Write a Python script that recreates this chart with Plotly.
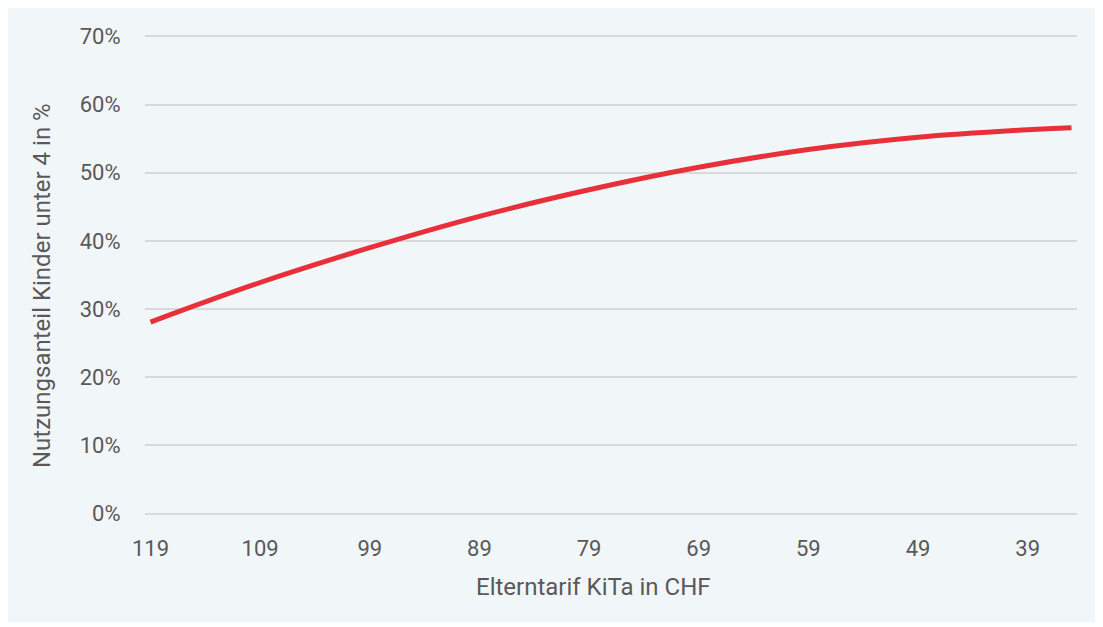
import plotly.graph_objects as go

tarif_chf = [119, 109, 99, 89, 79, 69, 59, 49, 39, 35]
nutzungsanteil = [0.281, 0.339, 0.390, 0.436, 0.475, 0.508, 0.534, 0.552, 0.563, 0.566]
x_ticks = [119, 109, 99, 89, 79, 69, 59, 49, 39]
y_ticks = [0, 0.1, 0.2, 0.3, 0.4, 0.5, 0.6, 0.7]
x_title = "Elterntarif KiTa in CHF"
y_title = "Nutzungsanteil Kinder unter 4 in %"

# page has an 8px body margin, so figure coordinates are offset by 8px
W, H = 1103, 627
ml, mr, mt, mb = 137, 34, 27, 120
pw, ph = W - ml - mr, H - mt - mb

panel = "#f1f6f9"
font_fam = "Roboto, sans-serif"
txt = "#595959"

fig = go.Figure()
fig.add_trace(go.Scatter(
    x=tarif_chf, y=nutzungsanteil, mode="lines",
    line=dict(color="#e8303a", width=5, shape="spline", smoothing=1.0),
    hoverinfo="skip", showlegend=False,
))

fig.add_shape(type="rect", xref="paper", yref="paper",
              x0=(0 - ml) / pw, x1=(1090 - ml) / pw,
              y0=(H - mb - 614) / ph, y1=(H - mb + 5) / ph,
              fillcolor=panel, line=dict(width=0), layer="below")

# axis titles (screen px -> figure px: minus 8)
fig.add_annotation(text=x_title, xref="paper", yref="paper",
                   x=(585 - ml) / pw, y=(H - mb - 579) / ph,
                   xanchor="center", yanchor="middle", showarrow=False,
                   font=dict(size=24, color=txt))
fig.add_annotation(text=y_title, xref="paper", yref="paper",
                   x=(34 - ml) / pw, y=(H - mb - 278) / ph, textangle=-90,
                   xanchor="center", yanchor="middle", showarrow=False,
                   font=dict(size=24, color=txt))

fig.update_layout(
    width=W, height=H,
    margin=dict(l=ml, r=mr, t=mt, b=mb),
    paper_bgcolor="white", plot_bgcolor=panel,
    font=dict(family=font_fam, size=22, color=txt),
    xaxis=dict(
        range=[119.5, 34.5], tickvals=x_ticks, ticktext=[str(v) for v in x_ticks],
        showgrid=False, zeroline=False, showline=False,
        ticks="outside", ticklen=14, tickcolor="rgba(0,0,0,0)",
    ),
    yaxis=dict(
        range=[-0.002, 0.702], tickvals=y_ticks, tickformat=".0%",
        showgrid=True, gridcolor="#d9d9d9", gridwidth=1.5,
        zeroline=False, showline=False, ticks="outside", ticklen=19, tickcolor="rgba(0,0,0,0)",
    ),
)
fig.write_html("out.html")
